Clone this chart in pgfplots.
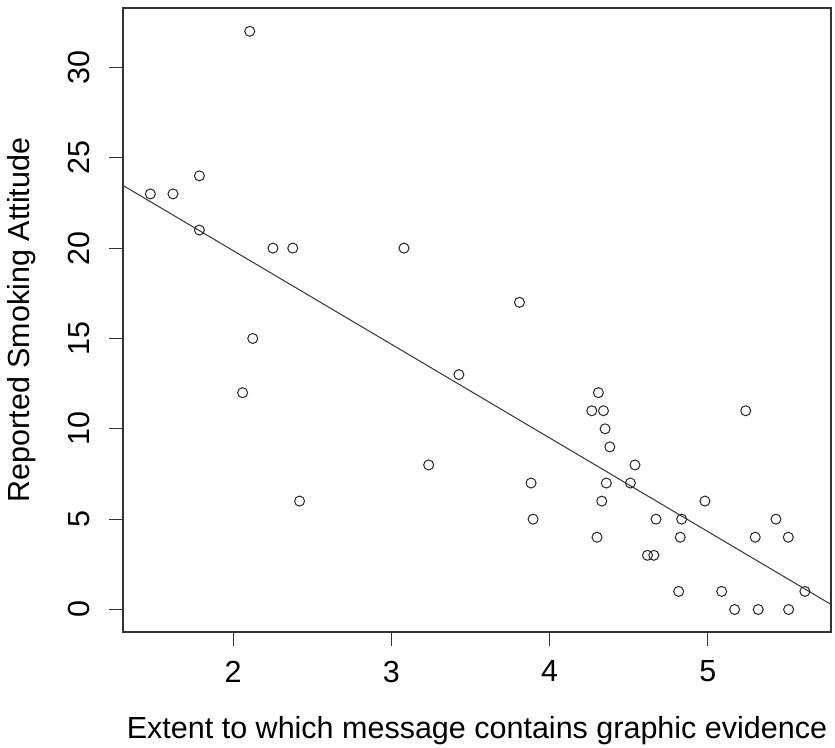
\documentclass[border=0pt]{standalone}
\usepackage{pgfplots}
\pgfplotsset{compat=1.18}
\usepackage{fontspec}
\setmainfont{Liberation Sans}
\begin{document}
\begin{tikzpicture}[font=\fontsize{30.5bp}{36bp}\selectfont]
\begin{axis}[
  scale only axis,
  width=708bp, height=624bp,
  xmin=1.304, xmax=5.779,
  ymin=-1.245, ymax=33.29,
  xtick={2,3,4,5},
  ytick={0,5,10,15,20,25,30},
  xtick pos=left, ytick pos=left,
  tick align=outside,
  major tick length=14bp,
  axis line style={line width=1.1bp, black!80},
  every tick/.style={line width=1.1bp, black!80},
  /pgf/number format/assume math mode=true,
  xticklabel style={inner sep=0pt, anchor=north, yshift=-14.7bp},
  yticklabel style={xshift=-19bp, rotate=90, anchor=south, inner sep=0pt},
  xlabel={Extent to which message contains graphic evidence},
  ylabel={Reported Smoking Attitude},
  xlabel style={at={(axis description cs:0.5,-0.1699)}, anchor=base, inner sep=0pt},
  ylabel style={at={(axis description cs:-0.1314,0.5)}, anchor=base, inner sep=0pt, rotate=0},
  clip=true,
]
\addplot[only marks, mark=o, mark size=5bp, mark options={line width=1bp, black!85}] coordinates {
(1.477,23) (1.620,23) (1.787,24) (1.787,21) (2.105,32) (2.252,20) (2.377,20) (3.080,20)
(2.060,12) (2.124,15) (2.420,6) (3.236,8) (3.427,13) (3.810,17)
(4.309,12) (4.267,11) (4.341,11) (4.351,10) (4.381,9) (4.540,8) (3.883,7) (4.359,7)
(4.511,7) (4.330,6) (3.896,5) (4.673,5) (4.300,4) (4.619,3) (4.659,3)
(5.240,11) (4.982,6) (4.835,5) (5.431,5) (4.826,4) (5.300,4) (5.509,4)
(4.816,1) (5.088,1) (5.614,1) (5.170,0) (5.319,0) (5.511,0)
};
\addplot[no marks, line width=1bp, black!80] coordinates {(1.304,23.47) (5.779,0.28)};
\end{axis}
\path ([shift={(-123bp,-116bp)}]current axis.south west) rectangle ([shift={(4bp,8bp)}]current axis.north east);
\end{tikzpicture}
\end{document}
